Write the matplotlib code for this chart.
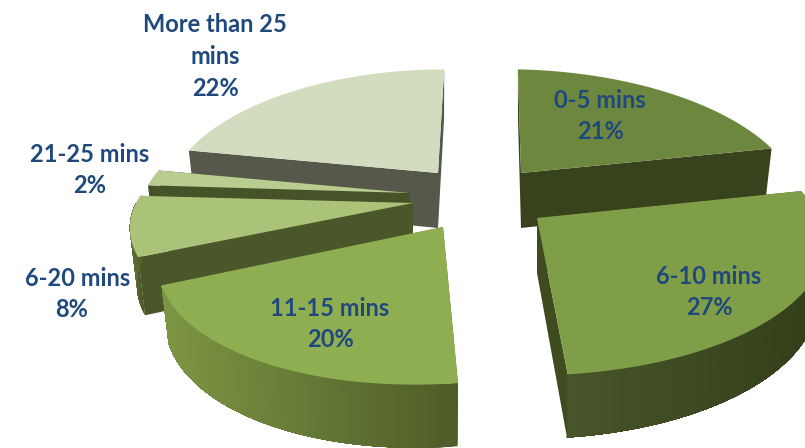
import numpy as np
import matplotlib
matplotlib.use("Agg")
import matplotlib.pyplot as plt

# Share of respondents per time band, clockwise from twelve o'clock
categories = ["0-5 mins", "6-10 mins", "11-15 mins", "6-20 mins", "21-25 mins", "More than 25\nmins"]
shares = [21, 27, 20, 8, 2, 22]

# Layout of each exploded slice
apex_x = [521, 537, 443, 413, 410, 438]
apex_y = [173, 218, 227, 203, 193, 173]
radius_x = [273, 284, 273, 277, 266, 265]
radius_y = [125, 125, 125, 116, 125, 125]
shear = [0.03, -0.09, -0.18, 0.0, 0.0, -0.06]
tilt = [0.02, 0.01, 0.0, 0.0, 0.0, 0.0]
PERSPECTIVE = 0.207
DEPTH = 55

# Slice colours: top face, cut face, rim at its left end, rim at its right end
top_colors = ["#6e873e", "#809e48", "#8fae52", "#aac378", "#bacd91", "#d2dcbe"]
cut_colors = ["#38421c", "#3f4c20", "#55662c", "#4b572a", "#465228", "#56584b"]
rim_left = ["#38421c", "#48562a", "#7d9644", "#5c6c32", "#465228", "#56584b"]
rim_right = ["#38421c", "#333e1a", "#4e5c28", "#4b572a", "#465228", "#56584b"]

# Text centres for each label
label_x = [600, 709, 330, 78, 90, 215]
label_y = [100, 276, 308, 278, 154, 25]
pct_shift = [0, 0, 0, -6, 0, 0]
LINE_GAP = 31.5
FONT_SIZE = 17
TEXT_COLOR = "#1f497d"

# Back slices first, so nearer ones overlap them
draw_order = [5, 4, 3, 2, 0, 1]


def project(i, theta):
    """Top-face and bottom-face screen points for clock angles theta (degrees)."""
    t = np.radians(theta)
    gx, gy = np.sin(t), -np.cos(t)
    s = 1.0 / (1.0 - PERSPECTIVE * gy)
    dy = radius_y[i] * gy * s
    dx = radius_x[i] * gx * s + shear[i] * dy
    dy = dy + tilt[i] * dx
    drop = DEPTH * s ** 0.6
    top = np.column_stack([apex_x[i] + dx, apex_y[i] + dy])
    bottom = np.column_stack([apex_x[i] + dx * 0.975, apex_y[i] + dy + drop])
    return top, bottom


def mix(a, b, f):
    ca, cb = np.array(matplotlib.colors.to_rgb(a)), np.array(matplotlib.colors.to_rgb(b))
    return tuple(ca + (cb - ca) * f)


fig = plt.figure(figsize=(8.05, 4.48), dpi=100)
ax = fig.add_axes([0, 0, 1, 1])
ax.set_xlim(0, 805)
ax.set_ylim(448, 0)
ax.axis("off")

edges = np.concatenate([[0], np.cumsum(shares)]) / sum(shares) * 360.0

for i in draw_order:
    start, end = edges[i], edges[i + 1]
    theta = np.linspace(start, end, 90)
    top, bottom = project(i, theta)
    apex_top = np.array([apex_x[i], apex_y[i]], float)
    apex_bottom = apex_top + [0, DEPTH]
    layer = 1 + draw_order.index(i)

    # Cut faces running from the apex out to each end of the arc
    for k in (0, -1):
        quad = np.array([apex_top, top[k], bottom[k], apex_bottom])
        ax.fill(quad[:, 0], quad[:, 1], color=cut_colors[i], lw=0, zorder=layer)

    # Outer rim, only where it faces the viewer; each strip runs on to the
    # end of the arc and the next one paints over it, which hides the seams
    front = np.where((theta >= 90) & (theta <= 270))[0]
    if len(front) > 1:
        xs = top[front, 0]
        span = max(xs.max() - xs.min(), 1)
        rightmost_first = top[front[0], 0] > top[front[-1], 0]
        strips = front[:-1] if rightmost_first else front[:-1]
        for a in strips:
            tail = front[front >= a]
            quad = np.vstack([top[tail], bottom[tail][::-1]])
            f = (top[a, 0] - xs.min()) / span
            ax.fill(quad[:, 0], quad[:, 1], color=mix(rim_left[i], rim_right[i], f), lw=0, zorder=layer)

    face = np.vstack([apex_top, top])
    ax.fill(face[:, 0], face[:, 1], color=top_colors[i], lw=0, zorder=layer)

for name, share, x, y, shift in zip(categories, shares, label_x, label_y, pct_shift):
    lines = name.split("\n")
    for n, line in enumerate(lines):
        ax.text(x, y + n * LINE_GAP, line, ha="center", va="center", family="Lato",
                fontweight="bold", fontsize=FONT_SIZE, color=TEXT_COLOR, zorder=20)
    ax.text(x + shift, y + len(lines) * LINE_GAP, f"{share}%", ha="center", va="center", family="Lato",
            fontweight="bold", fontsize=FONT_SIZE, color=TEXT_COLOR, zorder=20)

fig.savefig("out.png", dpi=100, facecolor="white")
